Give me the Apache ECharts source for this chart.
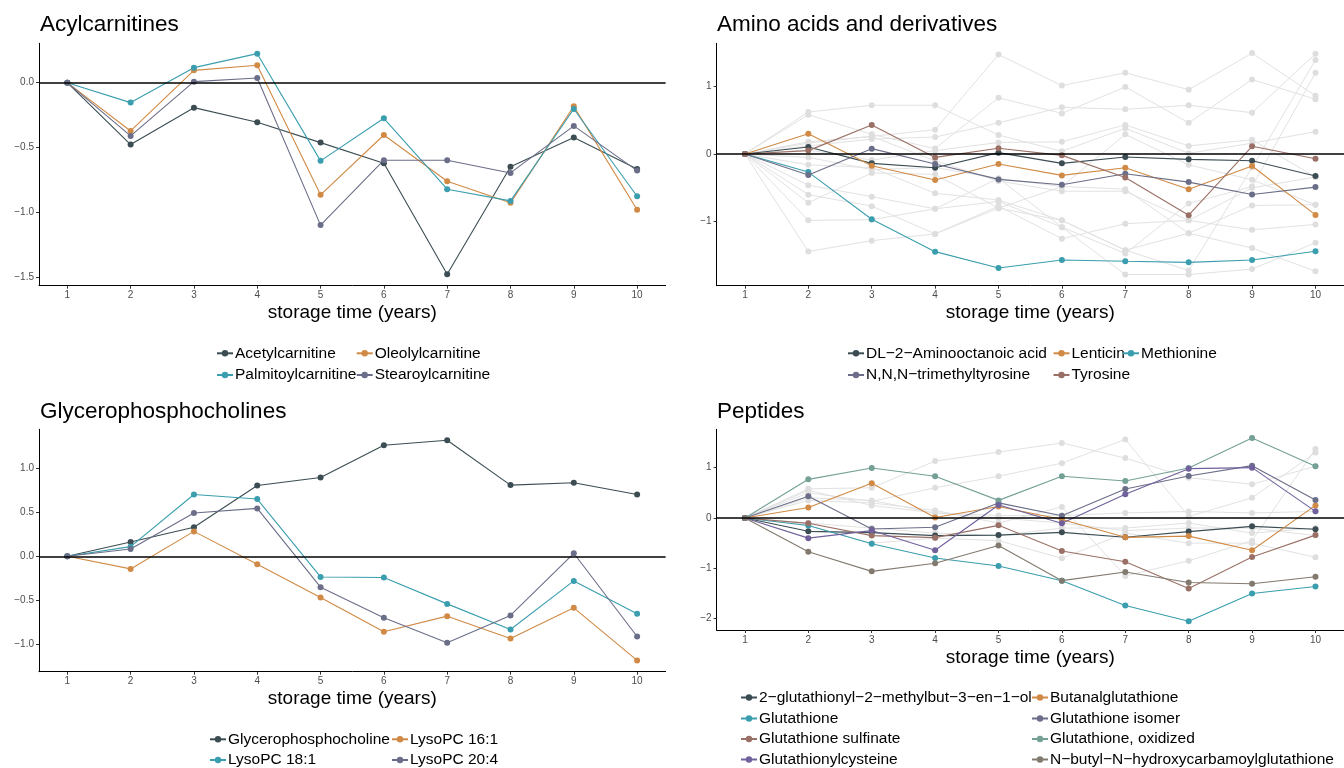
<!DOCTYPE html>
<html><head><meta charset="utf-8">
<script src="https://cdn.jsdelivr.net/npm/echarts@6/dist/echarts.min.js"></script>
<style>html,body{margin:0;padding:0;background:#fff}#c{width:1344px;height:768px}</style>
</head><body><div id="c"></div>
<script>
// ---------- data ----------
const storageTime = [1, 2, 3, 4, 5, 6, 7, 8, 9, 10];

// Acylcarnitines
const acetylcarnitine    = [0, -0.478, -0.193, -0.306, -0.463, -0.622, -1.48, -0.65, -0.424, -0.666];
const oleolylcarnitine   = [0, -0.373, 0.095, 0.134, -0.866, -0.404, -0.761, -0.928, -0.183, -0.982];
const palmitoylcarnitine = [0, -0.154, 0.116, 0.224, -0.604, -0.275, -0.823, -0.913, -0.203, -0.877];
const stearoylcarnitine  = [0, -0.411, 0.008, 0.036, -1.10, -0.599, -0.599, -0.697, -0.334, -0.679];

// Amino acids and derivatives
const aminooctanoicAcid  = [0, 0.104, -0.138, -0.202, 0.02, -0.138, -0.044, -0.079, -0.099, -0.326];
const lenticin           = [0, 0.30, -0.173, -0.385, -0.148, -0.316, -0.202, -0.519, -0.178, -0.899];
const methionine         = [0, -0.267, -0.963, -1.442, -1.684, -1.565, -1.585, -1.60, -1.565, -1.437];
const trimethyltyrosine  = [0, -0.311, 0.079, -0.148, -0.375, -0.454, -0.291, -0.415, -0.598, -0.489];
const tyrosine           = [0, 0.05, 0.43, -0.05, 0.084, -0.02, -0.346, -0.904, 0.114, -0.069];
// other (grey) amino acid traces
const aminoOther1  = [0, 0.18, 0.26, 0.36, 1.47, 1.01, 1.20, 0.95, 1.49, 0.86];
const aminoOther2  = [0, 0.62, 0.72, 0.72, 0.28, 0.04, 0.38, 0.01, 0.16, 0.33];
const aminoOther3  = [0, 0.58, 0.29, 0.08, 0.83, 0.60, 0.99, 0.46, 1.10, 0.81];
const aminoOther4  = [0, 0.12, 0.22, 0.25, 0.46, 0.69, 0.66, 0.72, 0.61, 1.48];
const aminoOther5  = [0, 0.06, -0.09, 0.05, 0.17, 0.18, 0.43, 0.12, 0.21, -0.34];
const aminoOther6  = [0, -0.05, -0.23, -0.20, -0.36, -0.48, 0.29, -0.16, -0.38, -0.75];
const aminoOther7  = [0, -0.16, -0.20, -0.58, -0.68, -0.98, -1.42, -1.72, -0.20, 1.39];
const aminoOther8  = [0, -0.46, -0.63, -0.81, -0.70, -1.08, -1.47, -0.73, -0.48, 1.20];
const aminoOther9  = [0, -0.60, -0.77, -1.18, -0.77, -1.25, -1.03, -0.98, -1.12, -1.04];
const aminoOther10 = [0, -0.72, -0.28, -0.30, -0.80, -0.48, -0.52, -1.17, -1.39, -1.73];
const aminoOther11 = [0, -0.98, -0.97, -0.81, -0.36, -1.08, -1.78, -1.78, -1.70, -1.31];
const aminoOther12 = [0, -1.44, -1.28, -1.18, -0.80, -0.98, -1.42, -1.17, -0.76, -0.75];
const aminoOther13 = [0, 0.16, 0.26, -0.10, -0.40, -0.55, -0.55, -0.98, -0.50, -0.34];

// Glycerophosphocholines
const glycerophosphocholine = [0, 0.162, 0.328, 0.802, 0.893, 1.258, 1.314, 0.806, 0.832, 0.70];
const lysoPC161 = [0, -0.143, 0.282, -0.09, -0.467, -0.855, -0.678, -0.93, -0.584, -1.179];
const lysoPC181 = [0, 0.109, 0.70, 0.648, -0.234, -0.241, -0.539, -0.829, -0.279, -0.652];
const lysoPC204 = [0, 0.083, 0.49, 0.542, -0.35, -0.697, -0.979, -0.67, 0.034, -0.908];

// Peptides
const glutMethylbutenol = [0, -0.265, -0.29, -0.35, -0.34, -0.285, -0.384, -0.27, -0.166, -0.225];
const butanalglutathione = [0, 0.21, 0.69, 0.01, 0.23, -0.03, -0.384, -0.36, -0.64, 0.25];
const glutathione        = [0, -0.15, -0.51, -0.795, -0.954, -1.245, -1.74, -2.05, -1.50, -1.36];
const glutathioneIsomer  = [0, 0.43, -0.22, -0.185, 0.30, 0.046, 0.576, 0.834, 1.04, 0.358];
const glutathioneSulfinate = [0, -0.106, -0.35, -0.39, -0.146, -0.656, -0.868, -1.40, -0.775, -0.34];
const glutathioneOxidized  = [0, 0.768, 0.993, 0.828, 0.35, 0.828, 0.735, 0.993, 1.59, 1.03];
const glutathionylcysteine = [0, -0.40, -0.25, -0.642, 0.258, -0.106, 0.47, 0.98, 1.0, 0.132];
const nButylGlutathione    = [0, -0.67, -1.06, -0.90, -0.545, -1.245, -1.073, -1.28, -1.305, -1.166];
// other (grey) peptide traces
const peptideOther1 = [0, 0.58, 0.60, 1.13, 1.31, 1.49, 1.19, 0.80, 0.67, 1.03];
const peptideOther2 = [0, 0.50, 0.33, 0.60, 0.83, 1.09, 1.56, 0.03, 0.40, 1.30];
const peptideOther3 = [0, 0.35, 0.30, 0.15, -0.10, 0.22, -1.15, -0.85, -0.45, 1.37];
const peptideOther4 = [0, 0.55, 0.25, 0.10, 0.05, 0.05, 0.10, 0.13, 0.10, 0.13];
const peptideOther5 = [0, -0.10, -0.20, -0.30, -0.35, -0.20, -0.20, -0.10, -0.30, -0.20];
const peptideOther6 = [0, -0.15, -0.50, -0.40, -0.45, -0.80, -0.30, -0.50, -0.50, -0.78];
const peptideOther7 = [0, 0.40, 0.35, 0.10, 0.00, -0.10, -0.25, -0.20, -0.20, -0.35];

const xTicks = [1, 2, 3, 4, 5, 6, 7, 8, 9, 10];
const yTicksAcyl = [-1.5, -1.0, -0.5, 0.0];
const yTicksAmino = [-1, 0, 1];
const yTicksGpc = [-1.0, -0.5, 0.0, 0.5, 1.0];
const yTicksPep = [-2, -1, 0, 1];

// ---------- build ----------
const FONT = '"Liberation Sans", Arial, Helvetica, sans-serif';
const C = {
  slate: '#3b4d53', orange: '#d08a45', teal: '#3a9eae', gpurple: '#6b6e88',
  brown: '#9a7066', sage: '#74a096', purple: '#70609c', gbrown: '#827a6e'
};
const pairs = arr => arr.map((v, i) => [storageTime[i], v]);
const minus = s => String(s).replace('-', '\u2212');

const grids = [
  { left: 39, top: 43.3, width: 626.6, height: 242.4 },
  { left: 716.6, top: 43.3, width: 635.1, height: 242.4 },
  { left: 39, top: 429.3, width: 626.6, height: 242.4 },
  { left: 716.6, top: 429.3, width: 635.1, height: 200.7 }
];
const yRanges = [[-1.568, 0.304], [-1.945, 1.635], [-1.307, 1.438], [-2.225, 1.762]];
const yTicks = [yTicksAcyl, yTicksAmino, yTicksGpc, yTicksPep];
const yDec = [1, 0, 1, 0];

const xAxis = grids.map((g, i) => ({
  type: 'value', gridIndex: i, min: 0.553, max: 10.45,
  axisLine: { show: true, onZero: false, lineStyle: { color: '#000', width: 1 } },
  axisTick: { show: true, length: 3, lineStyle: { color: '#333' }, customValues: xTicks },
  axisLabel: { color: '#4d4d4d', fontSize: 10, fontFamily: FONT, margin: 5, customValues: xTicks },
  splitLine: { show: false },
  name: 'storage time (years)', nameLocation: 'middle', nameGap: 18,
  nameTextStyle: { color: '#000', fontSize: 19, fontFamily: FONT }
}));
const yAxis = grids.map((g, i) => ({
  type: 'value', gridIndex: i, min: yRanges[i][0], max: yRanges[i][1],
  axisLine: { show: true, onZero: false, lineStyle: { color: '#000', width: 1 } },
  axisTick: { show: true, length: 3, lineStyle: { color: '#333' }, customValues: yTicks[i] },
  axisLabel: {
    color: '#4d4d4d', fontSize: 10, fontFamily: FONT, margin: 5, customValues: yTicks[i],
    formatter: v => minus(Number(v).toFixed(yDec[i]))
  },
  splitLine: { show: false }
}));

const series = [];
function grey(idx, name, arr) {
  series.push({
    name, type: 'line', xAxisIndex: idx, yAxisIndex: idx, data: pairs(arr),
    symbol: 'circle', symbolSize: 6, z: 1, silent: true,
    lineStyle: { color: '#e2e2e2', width: 1 }, itemStyle: { color: '#dedede' }
  });
}
function main(idx, name, arr, color, zeroLine) {
  const s = {
    name, type: 'line', xAxisIndex: idx, yAxisIndex: idx, data: pairs(arr),
    symbol: 'circle', symbolSize: 6, z: 3,
    lineStyle: { color, width: 1.1 }, itemStyle: { color }
  };
  if (zeroLine) {
    s.markLine = {
      silent: true, symbol: ['none', 'none'], label: { show: false },
      lineStyle: { color: '#000', width: 1.6, type: 'solid' },
      data: [{ yAxis: 0 }], animation: false
    };
  }
  series.push(s);
}

// panel 0
main(0, 'Acetylcarnitine', acetylcarnitine, C.slate, true);
main(0, 'Oleolylcarnitine', oleolylcarnitine, C.orange);
main(0, 'Palmitoylcarnitine', palmitoylcarnitine, C.teal);
main(0, 'Stearoylcarnitine', stearoylcarnitine, C.gpurple);
// panel 1
[aminoOther1, aminoOther2, aminoOther3, aminoOther4, aminoOther5, aminoOther6, aminoOther7,
 aminoOther8, aminoOther9, aminoOther10, aminoOther11, aminoOther12, aminoOther13]
  .forEach((a, k) => grey(1, 'aminoOther' + (k + 1), a));
main(1, 'DL\u22122\u2212Aminooctanoic acid', aminooctanoicAcid, C.slate, true);
main(1, 'Lenticin', lenticin, C.orange);
main(1, 'Methionine', methionine, C.teal);
main(1, 'N,N,N\u2212trimethyltyrosine', trimethyltyrosine, C.gpurple);
main(1, 'Tyrosine', tyrosine, C.brown);
// panel 2
main(2, 'Glycerophosphocholine', glycerophosphocholine, C.slate, true);
main(2, 'LysoPC 16:1', lysoPC161, C.orange);
main(2, 'LysoPC 18:1', lysoPC181, C.teal);
main(2, 'LysoPC 20:4', lysoPC204, C.gpurple);
// panel 3
[peptideOther1, peptideOther2, peptideOther3, peptideOther4, peptideOther5, peptideOther6, peptideOther7]
  .forEach((a, k) => grey(3, 'peptideOther' + (k + 1), a));
main(3, '2\u2212glutathionyl\u22122\u2212methylbut\u22123\u2212en\u22121\u2212ol', glutMethylbutenol, C.slate, true);
main(3, 'Butanalglutathione', butanalglutathione, C.orange);
main(3, 'Glutathione', glutathione, C.teal);
main(3, 'Glutathione isomer', glutathioneIsomer, C.gpurple);
main(3, 'Glutathione sulfinate', glutathioneSulfinate, C.brown);
main(3, 'Glutathione, oxidized', glutathioneOxidized, C.sage);
main(3, 'Glutathionylcysteine', glutathionylcysteine, C.purple);
main(3, 'N\u2212butyl\u2212N\u2212hydroxycarbamoylglutathione', nButylGlutathione, C.gbrown);

// legends: [seriesName, left, centerY]
const legendPlaces = [
  ['Acetylcarnitine', 216, 353.3], ['Oleolylcarnitine', 355.7, 353.3],
  ['Palmitoylcarnitine', 216, 375], ['Stearoylcarnitine', 355.7, 375],
  ['DL\u22122\u2212Aminooctanoic acid', 847, 353.3], ['Lenticin', 1052.5, 353.3], ['Methionine', 1122, 353.3],
  ['N,N,N\u2212trimethyltyrosine', 847, 375], ['Tyrosine', 1052.5, 375],
  ['Glycerophosphocholine', 209, 739.3], ['LysoPC 16:1', 391, 739.3],
  ['LysoPC 18:1', 209, 760], ['LysoPC 20:4', 391, 760],
  ['2\u2212glutathionyl\u22122\u2212methylbut\u22123\u2212en\u22121\u2212ol', 740, 697.5], ['Butanalglutathione', 1031, 697.5],
  ['Glutathione', 740, 718.5], ['Glutathione isomer', 1031, 718.5],
  ['Glutathione sulfinate', 740, 739], ['Glutathione, oxidized', 1031, 739],
  ['Glutathionylcysteine', 740, 759.5], ['N\u2212butyl\u2212N\u2212hydroxycarbamoylglutathione', 1031, 759.5]
];
const legend = legendPlaces.map(([n, l, cy]) => ({
  data: [n], left: l, top: cy - 9, padding: 0, itemWidth: 16, itemHeight: 8, itemGap: 0,
  selectedMode: false,
  textStyle: { color: '#000', fontSize: 15.5, fontFamily: FONT, lineHeight: 18, padding: [0, 0, 0, -3] }
}));

const titles = [
  ['Acylcarnitines', 40, 13.5], ['Amino acids and derivatives', 717, 13.5],
  ['Glycerophosphocholines', 40, 400.2], ['Peptides', 717, 400.2]
].map(([t, l, tp]) => ({
  text: t, left: l, top: tp, padding: 0,
  textStyle: { color: '#000', fontSize: 22.5, fontWeight: 'normal', fontFamily: FONT, lineHeight: 23 }
}));

const chart = echarts.init(document.getElementById('c'), null, { renderer: 'canvas' });
chart.setOption({
  animation: false, backgroundColor: '#fff',
  title: titles, legend, grid: grids, xAxis, yAxis, series
});
</script></body></html>
